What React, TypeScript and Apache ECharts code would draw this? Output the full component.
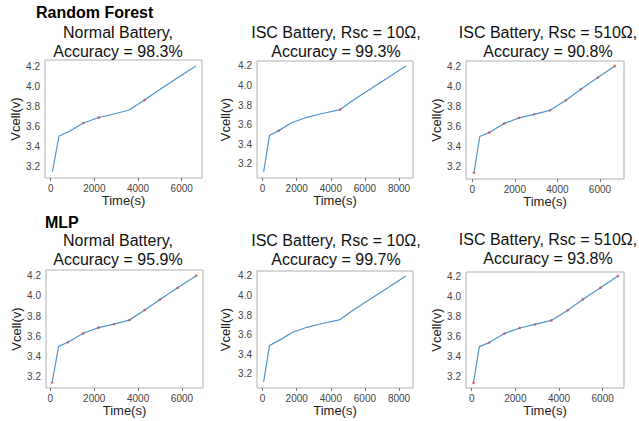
import React, { useEffect, useRef } from "react";
import * as echarts from "echarts";

// Measured data (time in s, cell voltage in V)
const normalT = [80, 380, 800, 1500, 2200, 2900, 3600, 4300, 5000, 5800, 6650];
const normalV = [3.14, 3.5, 3.54, 3.63, 3.685, 3.72, 3.76, 3.86, 3.965, 4.08, 4.2];

const isc10T = [60, 400, 950, 1700, 2600, 3500, 4550, 5300, 6300, 7300, 8400];
const isc10V = [3.12, 3.49, 3.54, 3.62, 3.676, 3.715, 3.755, 3.85, 3.962, 4.075, 4.2];

const isc510T = [80, 350, 800, 1500, 2200, 2900, 3650, 4400, 5100, 5900, 6700];
const isc510V = [3.14, 3.5, 3.54, 3.63, 3.685, 3.72, 3.76, 3.86, 3.97, 4.085, 4.2];

// indices of points where prediction marks (red) appear
const rfNormalMarks = [3, 4, 7];
const rfIsc10Marks = [2, 6];
const rfIsc510Marks = [0, 2, 3, 4, 5, 6, 7, 8, 9, 10];
const mlpNormalMarks = [0, 2, 3, 4, 5, 6, 7, 8, 9, 10];
const mlpIsc10Marks: number[] = [];
const mlpIsc510Marks = [0, 2, 3, 4, 5, 6, 7, 8, 9, 10];

const panelTitles = [
  "Normal Battery,\nAccuracy = 98.3%",
  "ISC Battery, Rsc = 10Ω,\nAccuracy = 99.3%",
  "ISC Battery, Rsc = 510Ω,\nAccuracy = 90.8%",
  "Normal Battery,\nAccuracy = 95.9%",
  "ISC Battery, Rsc = 10Ω,\nAccuracy = 99.7%",
  "ISC Battery, Rsc = 510Ω,\nAccuracy = 93.8%",
];
const rowTitles = ["Random Forest", "MLP"];

const xTicks6 = [0, 2000, 4000, 6000];
const xTicks8 = [0, 2000, 4000, 6000, 8000];
const yTicks = [3.2, 3.4, 3.6, 3.8, 4.0, 4.2];

const FONT = "'Liberation Sans', Arial, sans-serif";

export default function App() {
  const ref = useRef<HTMLDivElement>(null);
  useEffect(() => {
    if (!ref.current) return;
    const chart = echarts.init(ref.current, null, { renderer: "svg" });

    const panels = [
      { t: normalT, v: normalV, marks: rfNormalMarks, grid: [45, 60, 157, 118], x: [-260, 6930], y: [3.08, 4.26], xt: xTicks6, tc: 118, ty: 23, ng: 23 },
      { t: isc10T, v: isc10V, marks: rfIsc10Marks, grid: [257, 61, 156, 117], x: [-330, 8820], y: [3.057, 4.25], xt: xTicks8, tc: 336, ty: 23, ng: 25 },
      { t: isc510T, v: isc510V, marks: rfIsc510Marks, grid: [466, 61, 158, 118], x: [-296, 7129], y: [3.078, 4.25], xt: xTicks6, tc: 548, ty: 23, ng: 21 },
      { t: normalT, v: normalV, marks: mlpNormalMarks, grid: [46, 270, 157, 118], x: [-196, 6957], y: [3.087, 4.257], xt: xTicks6, tc: 118, ty: 231, ng: 23 },
      { t: isc10T, v: isc10V, marks: mlpIsc10Marks, grid: [257, 271, 156, 117], x: [-330, 8820], y: [3.057, 4.25], xt: xTicks8, tc: 336, ty: 231, ng: 25 },
      { t: isc510T, v: isc510V, marks: mlpIsc510Marks, grid: [466, 272, 158, 116], x: [-261, 6977], y: [3.09, 4.24], xt: xTicks6, tc: 548, ty: 230, ng: 21 },
    ];

    const grids: any[] = [];
    const xAxes: any[] = [];
    const yAxes: any[] = [];
    const series: any[] = [];
    const titles: any[] = [];

    panels.forEach((p, i) => {
      grids.push({
        left: p.grid[0], top: p.grid[1], width: p.grid[2], height: p.grid[3],
        show: true, borderColor: "#b0b0b0", borderWidth: 1, backgroundColor: "#fff",
      });
      xAxes.push({
        type: "value", gridIndex: i, min: p.x[0], max: p.x[1],
        name: "Time(s)", nameLocation: "middle", nameGap: 15,
        nameTextStyle: { fontSize: 13, color: "#222", fontFamily: FONT },
        splitLine: { show: false },
        axisLine: { show: false },
        axisTick: { show: true, length: 3, customValues: p.xt, lineStyle: { color: "#777" } },
        axisLabel: {
          customValues: p.xt, fontSize: 10, color: "#444", margin: 5, fontFamily: FONT,
          formatter: (v: number) => String(Math.round(v)),
        },
      });
      yAxes.push({
        type: "value", gridIndex: i, min: p.y[0], max: p.y[1],
        name: "Vcell(v)", nameLocation: "middle", nameGap: p.ng,
        nameTextStyle: { fontSize: 13, color: "#222", fontFamily: FONT },
        splitLine: { show: false },
        axisLine: { show: false },
        axisTick: { show: false, customValues: yTicks },
        axisLabel: {
          customValues: yTicks, fontSize: 10, color: "#444", margin: 5, fontFamily: FONT,
          formatter: (v: number) => v.toFixed(1),
        },
      });
      series.push({
        type: "line", xAxisIndex: i, yAxisIndex: i,
        data: p.t.map((t, k) => [t, p.v[k]]),
        showSymbol: false, symbol: "none",
        lineStyle: { color: "#4f94cd", width: 1.2 },
        z: 2,
      });
      series.push({
        type: "scatter", xAxisIndex: i, yAxisIndex: i,
        data: p.marks.map((k) => [p.t[k], p.v[k]]),
        symbol: "circle", symbolSize: 2.8,
        itemStyle: { color: "#c0504d", opacity: 0.7 },
        z: 3,
      });
      titles.push({
        text: panelTitles[i], left: p.tc, top: p.ty, textAlign: "center",
        textStyle: { fontSize: 16, fontWeight: "normal", color: "#111", lineHeight: 19, fontFamily: FONT },
        padding: 0,
      });
    });

    titles.push({
      text: rowTitles[0], left: 36, top: 4, padding: 0,
      textStyle: { fontSize: 16, fontWeight: "bold", color: "#000", fontFamily: FONT },
    });
    titles.push({
      text: rowTitles[1], left: 45, top: 214, padding: 0,
      textStyle: { fontSize: 16, fontWeight: "bold", color: "#000", fontFamily: FONT },
    });

    chart.setOption({
      animation: false,
      backgroundColor: "#fff",
      title: titles,
      grid: grids,
      xAxis: xAxes,
      yAxis: yAxes,
      series,
    });
    return () => chart.dispose();
  }, []);

  return (
    <div
      ref={ref}
      style={{ position: "fixed", left: 0, top: 0, width: 639, height: 421, background: "#fff" }}
    />
  );
}
